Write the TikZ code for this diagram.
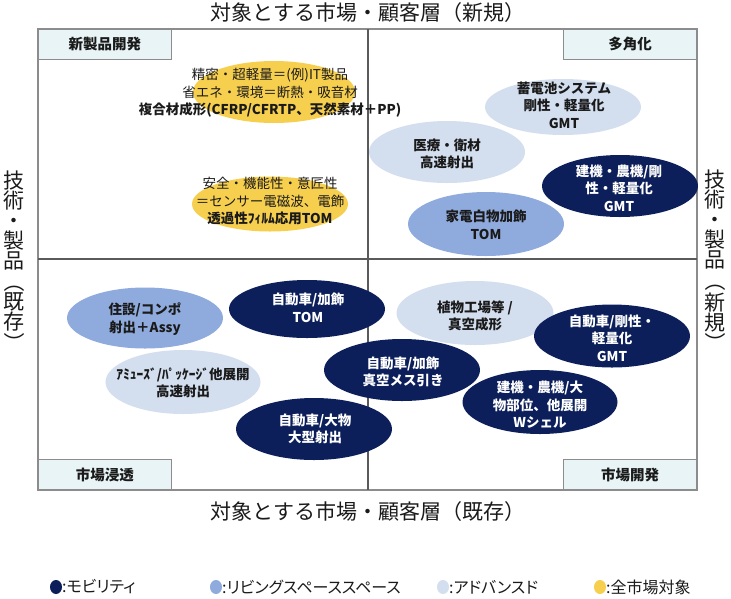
\documentclass[tikz,border=0pt]{standalone}
\usepackage{fontspec}
\usepackage{graphicx}
\setmainfont{Noto Sans CJK JP}
\newfontfamily\legfont[RawFeature=+palt]{Noto Sans CJK JP}
\usetikzlibrary{shapes.geometric}
\definecolor{navy}{HTML}{0C1F5B}
\definecolor{midblue}{HTML}{8FAADC}
\definecolor{lightblue}{HTML}{D3DEEF}
\definecolor{goldy}{HTML}{F7CF4F}
\definecolor{boxfill}{HTML}{E8F4F6}
\definecolor{boxline}{HTML}{8C8C8C}
\definecolor{midline}{HTML}{5A5A5A}
\definecolor{txtdark}{HTML}{1A1A1A}
\newcommand{\vlp}{\rotatebox[origin=c]{-90}{（}}
\newcommand{\vrp}{\rotatebox[origin=c]{-90}{）}}
\begin{document}
\begin{tikzpicture}[x=1pt,y=-1pt,
  ell/.style={ellipse, inner sep=0pt, draw=none},
  etxt/.style={align=center, font=\fontsize{13.5}{17.5}\selectfont\bfseries, inner sep=0pt, text=txtdark},
  wtxt/.style={etxt, text=white},
  quad/.style={draw=boxline, fill=boxfill, line width=0.9pt, minimum width=133pt, minimum height=30pt, inner sep=0pt, font=\fontsize{14.5}{14.5}\selectfont\bfseries, text=txtdark},
  ttl/.style={font=\fontsize{21}{21}\selectfont, inner sep=0pt, text=txtdark},
  vtl/.style={font=\fontsize{21}{20}\selectfont, align=center, inner sep=0pt, text=txtdark},
  dot/.style={ellipse, inner sep=0pt, minimum width=12pt, minimum height=14pt},
  leg/.style={font=\legfont\fontsize{16}{16}\selectfont, inner sep=0pt, anchor=west, text=txtdark}
]
\useasboundingbox (0,0) rectangle (731,598);

% titles
\node[ttl] (ttop) at (368,13) {対象とする市場・顧客層（新規）};
\node[ttl] (tbot) at (368,512) {対象とする市場・顧客層（既存）};
\node[vtl] (tleft) at (14,262) {技\\術\\・\\製\\品\\\vlp\\既\\存\\\vrp};
\node[vtl] (tright) at (715,262) {技\\術\\・\\製\\品\\\vlp\\新\\規\\\vrp};

% frame and quadrant lines
\draw[boxline, line width=1.4pt] (38,29) rectangle (697,490);
\draw[midline, line width=1.3pt] (368,29) -- (368,490);
\draw[midline, line width=1.3pt] (38,259) -- (697,259);

% quadrant labels
\node[quad, anchor=north west] (q1) at (38,29) {新製品開発};
\node[quad, anchor=north east] (q2) at (697,29) {多角化};
\node[quad, anchor=south west] (q3) at (38,490) {市場浸透};
\node[quad, anchor=south east] (q4) at (697,490) {市場開発};

% ellipses
\node[ell, fill=goldy, minimum width=162pt, minimum height=62pt] (e1) at (274,92) {};
\node[ell, fill=goldy, minimum width=156pt, minimum height=55pt] (e2) at (270,204) {};
\node[ell, fill=lightblue, minimum width=156pt, minimum height=56pt] (e3) at (563,107) {};
\node[ell, fill=lightblue, minimum width=156pt, minimum height=62pt] (e4) at (447,152) {};
\node[ell, fill=navy, minimum width=156pt, minimum height=62pt] (e5) at (620,186) {};
\node[ell, fill=midblue, minimum width=156pt, minimum height=64pt] (e6) at (486,224) {};
\node[ell, fill=midblue, minimum width=156pt, minimum height=61pt] (e7) at (145,318) {};
\node[ell, fill=navy, minimum width=156pt, minimum height=58pt] (e8) at (307,309) {};
\node[ell, fill=lightblue, minimum width=155pt, minimum height=64pt] (e9) at (183,382) {};
\node[ell, fill=navy, minimum width=156pt, minimum height=62pt] (e10) at (314,429) {};
\node[ell, fill=navy, minimum width=156pt, minimum height=62pt] (e11) at (402,370) {};
\node[ell, fill=lightblue, minimum width=157pt, minimum height=64pt] (e12) at (475,313) {};
\node[ell, fill=navy, minimum width=156pt, minimum height=63pt] (e13) at (612,336) {};
\node[ell, fill=navy, minimum width=155pt, minimum height=64pt] (e14) at (540,402) {};

% ellipse texts
\node[etxt] (t1) at (270,93) {\mdseries 精密・超軽量＝(例)IT製品\\\mdseries 省エネ・環境＝断熱・吸音材\\複合材成形(CFRP/CFRTP、天然素材＋PP)};
\node[etxt] (t2) at (270,201) {\mdseries 安全・機能性・意匠性\\\mdseries ＝センサー電磁波、電飾\\透過性ﾌｨﾙﾑ応用TOM};
\node[etxt] (t3) at (564,105) {蓄電池システム\\剛性・軽量化\\GMT};
\node[etxt] (t4) at (447,154) {医療・衛材\\高速射出};
\node[wtxt] (t5) at (619,188) {建機・農機/剛\\性・軽量化\\GMT};
\node[etxt] (t6) at (486,225) {家電白物加飾\\TOM};
\node[etxt] (t7) at (145,319) {住設/コンポ\\射出＋Assy};
\node[wtxt] (t8) at (308,308) {自動車/加飾\\TOM};
\node[etxt] (t9) at (183,383) {ｱﾐｭｰｽﾞ/ﾊﾟｯｹｰｼﾞ他展開\\高速射出};
\node[wtxt] (t10) at (315,429) {自動車/大物\\大型射出};
\node[wtxt] (t11) at (403,372) {自動車/加飾\\真空メス引き};
\node[etxt] (t12) at (475,316) {植物工場等 /\\真空成形};
\node[wtxt] (t13) at (612,338) {自動車/剛性・\\軽量化\\GMT};
\node[wtxt] (t14) at (540,405) {建機・農機/大\\物部位、他展開\\Wシェル};

% legend
\node[dot, fill=navy] (d1) at (56,587) {};
\node[leg] (l1) at (62,587) {:モビリティ};
\node[dot, fill=midblue] (d2) at (216,587) {};
\node[leg] (l2) at (222,587) {:リビングスペーススペース};
\node[dot, fill=lightblue] (d3) at (443,587) {};
\node[leg] (l3) at (449,587) {:アドバンスド};
\node[dot, fill=goldy] (d4) at (600,587) {};
\node[leg] (l4) at (606,587) {:全市場対象};
\end{tikzpicture}
\end{document}
